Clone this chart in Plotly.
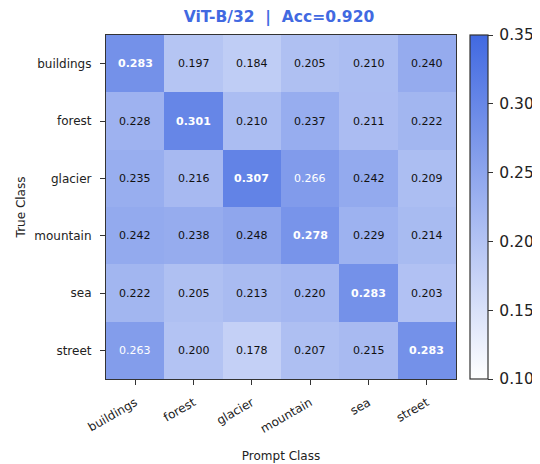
import plotly.graph_objects as go

classes = ["buildings", "forest", "glacier", "mountain", "sea", "street"]
values = [
    [0.283, 0.197, 0.184, 0.205, 0.210, 0.240],
    [0.228, 0.301, 0.210, 0.237, 0.211, 0.222],
    [0.235, 0.216, 0.307, 0.266, 0.242, 0.209],
    [0.242, 0.238, 0.248, 0.278, 0.229, 0.214],
    [0.222, 0.205, 0.213, 0.220, 0.283, 0.203],
    [0.263, 0.200, 0.178, 0.207, 0.215, 0.283],
]
cb_ticks = [0.10, 0.15, 0.20, 0.25, 0.30, 0.35]
title_text = "ViT-B/32\u00a0\u00a0|\u00a0\u00a0Acc=0.920"

FONT = "DejaVu Sans"
ACCENT = "#4169E1"
OFF = 8  # browser body margin

W, H = 540, 464
PL, PR, PT, PB = 103, 456, 35, 385  # plot area in page pixels

fig = go.Figure(go.Heatmap(
    z=values, x=classes, y=classes,
    zmin=0.10, zmax=0.35,
    colorscale=[[0, "#ffffff"], [1, ACCENT]],
    colorbar=dict(
        x=(470 - PL) / (PR - PL), xanchor="left", xpad=0, ypad=0, y=0.5, yanchor="middle",
        len=1, lenmode="fraction", thickness=18, thicknessmode="pixels",
        outlinecolor="#333333", outlinewidth=1.2,
        tickvals=cb_ticks, ticktext=[f"\u2009{v:.2f}" for v in cb_ticks],
        ticks="outside", ticklen=5, tickcolor="#333333",
        tickfont=dict(family=FONT, size=15.5, color="#222222"),
    ),
    hoverinfo="skip",
))

annotations = []
for i, row in enumerate(values):
    for j, v in enumerate(row):
        diag = i == j
        white = v > 0.26
        txt = f"{v:.3f}"
        if diag:
            txt = f"<b>{txt}</b>"
        annotations.append(dict(
            x=classes[j], y=classes[i], text=txt, showarrow=False,
            font=dict(family=FONT, size=11, color="#ffffff" if white else "#111111"),
        ))

fig.update_layout(
    width=W, height=H,
    margin=dict(l=PL - OFF, r=W - PR + OFF, t=PT - OFF, b=H - PB + OFF),
    paper_bgcolor="white", plot_bgcolor="white",
    title=dict(text=f"<b>{title_text}</b>", x=(279 - OFF) / W, xanchor="center",
               y=1 - (17 - OFF) / H, yanchor="middle",
               font=dict(family=FONT, size=15.5, color=ACCENT)),
    annotations=annotations,
    xaxis=dict(
        tickangle=-30, ticks="outside", ticklen=5, tickcolor="#333333",
        ticklabelstandoff=6,
        tickfont=dict(family=FONT, size=12, color="#222222"),
        showline=True, linecolor="#333333", linewidth=1.2, mirror=True,
        title=dict(text="Prompt Class", font=dict(family=FONT, size=12, color="#222222"), standoff=16),
        showgrid=False, zeroline=False,
    ),
    yaxis=dict(
        autorange="reversed", ticks="outside", ticklen=5, tickcolor="#333333",
        ticklabelstandoff=6,
        tickfont=dict(family=FONT, size=12, color="#222222"),
        showline=True, linecolor="#333333", linewidth=1.2, mirror=True,
        title=dict(text="True Class", font=dict(family=FONT, size=12, color="#222222"), standoff=6),
        showgrid=False, zeroline=False,
    ),
)

fig.write_html("out.html")
